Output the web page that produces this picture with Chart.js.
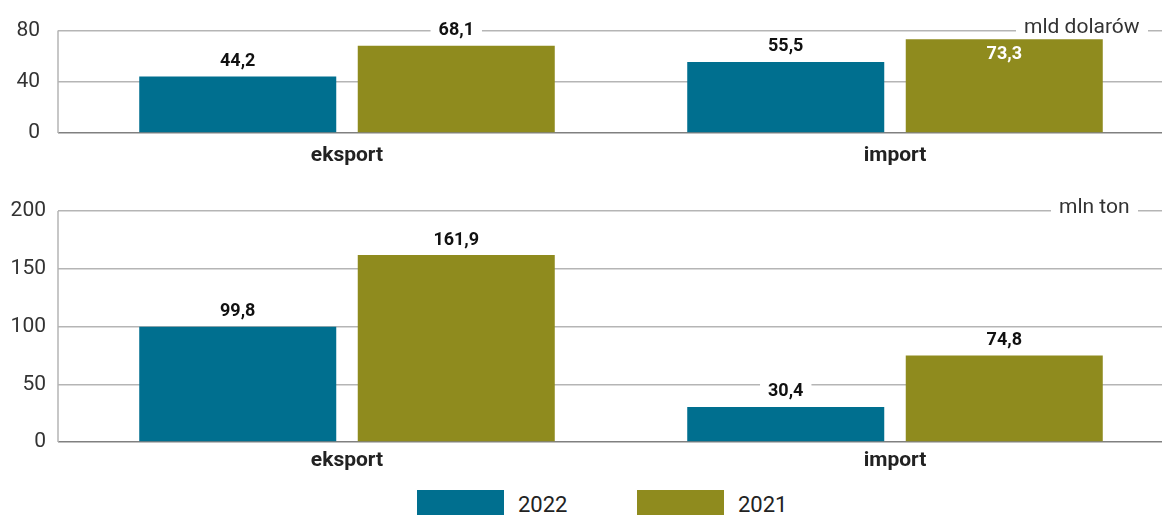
<!DOCTYPE html>
<html lang="pl">
<head>
<meta charset="utf-8">
<script src="https://cdn.jsdelivr.net/npm/chart.js@4"></script>
<style>
  body { margin: 0; background: #fff; font-family: Roboto, sans-serif; }
  #page { position: relative; width: 1162px; height: 515px; overflow: hidden; }
  .panel { position: absolute; left: 0; width: 1169px; }
  .unit {
    position: absolute; background: #fff; color: #333;
    font-size: 21px; line-height: 22px; padding: 0 8px;
  }
  .legend-box { position: absolute; width: 87px; height: 27px; }
  .legend-text { position: absolute; font-size: 22px; color: #222; line-height: 24px; }
</style>
</head>
<body>
<div id="page">
  <div class="panel" style="top:0; height:170px;"><canvas id="usdChart"></canvas></div>
  <div class="panel" style="top:180px; height:299px;"><canvas id="tonChart"></canvas></div>
  <span class="unit" style="left:1016px; top:15px;">mld dolarów</span>
  <span class="unit" style="left:1051px; top:195px;">mln ton</span>
  <div id="legend"></div>
</div>
<script>
// data
const categories = ["eksport", "import"];
const years = ["2022", "2021"];
const usd2022 = [44.2, 55.5];
const usd2021 = [68.1, 73.3];
const ton2022 = [99.8, 30.4];
const ton2021 = [161.9, 74.8];
const usdTicks = [0, 40, 80];
const tonTicks = [0, 50, 100, 150, 200];

const colors = ["#006f8f", "#8f8b1e"];
const gridColor = "#b5b5b5";
const zeroColor = "#808080";
const AXIS_X = 58;

function fmt(v) {
  return v.toFixed(1).replace(".", ",");
}

// value labels above bars (inside if the bar is near the top)
const valueLabels = {
  id: "valueLabels",
  afterDatasetsDraw(chart) {
    const ctx = chart.ctx;
    const max = chart.scales.y.max;
    ctx.save();
    ctx.font = "bold 18px Roboto";
    ctx.textAlign = "center";
    ctx.textBaseline = "middle";
    chart.data.datasets.forEach((ds, i) => {
      chart.getDatasetMeta(i).data.forEach((bar, j) => {
        const v = ds.data[j];
        const txt = fmt(v);
        if (v / max > 0.9) {
          ctx.fillStyle = "#fff";
          ctx.fillText(txt, bar.x, bar.y + 15);
        } else {
          const y = bar.y - 15;
          const w = ctx.measureText(txt).width;
          ctx.fillStyle = "#fff";
          ctx.fillRect(bar.x - w / 2 - 8, y - 9, w + 16, 18);
          ctx.fillStyle = "#111";
          ctx.fillText(txt, bar.x, y);
        }
      });
    });
    ctx.restore();
  },
};

// left axis line
const axisLine = {
  id: "axisLine",
  afterDraw(chart) {
    const a = chart.chartArea;
    const ctx = chart.ctx;
    ctx.save();
    ctx.strokeStyle = gridColor;
    ctx.lineWidth = 1.5;
    ctx.beginPath();
    ctx.moveTo(AXIS_X, a.top);
    ctx.lineTo(AXIS_X, a.bottom);
    ctx.stroke();
    ctx.restore();
  },
};

function makeChart(id, d2022, d2021, ticks, topPad, labelPad, catPad) {
  const ctx = document.getElementById(id).getContext("2d");
  return new Chart(ctx, {
    type: "bar",
    data: {
      labels: categories,
      datasets: [
        { label: years[0], data: d2022, backgroundColor: colors[0] },
        { label: years[1], data: d2021, backgroundColor: colors[1] },
      ],
    },
    options: {
      responsive: true,
      maintainAspectRatio: false,
      animation: false,
      layout: { padding: { top: topPad, right: 0, left: 0, bottom: 0 } },
      datasets: { bar: { categoryPercentage: 0.7975, barPercentage: 0.9016 } },
      plugins: { legend: { display: false }, tooltip: { enabled: false } },
      scales: {
        x: {
          grid: { display: false, drawTicks: false },
          border: { display: false },
          afterFit: (s) => { s.height = 37; },
          ticks: {
            padding: catPad,
            color: "#222",
            font: { family: "Roboto", size: 21, weight: "bold" },
          },
        },
        y: {
          min: ticks[0],
          max: ticks[ticks.length - 1],
          afterFit: (s) => { s.width = 73; },
          afterBuildTicks: (s) => { s.ticks = ticks.map((v) => ({ value: v })); },
          border: { display: false },
          grid: {
            color: (c) => (c.tick && c.tick.value === 0 ? zeroColor : gridColor),
            lineWidth: 1.5,
            tickLength: 15,
            drawTicks: true,
          },
          ticks: {
            padding: labelPad,
            color: "#333",
            font: { family: "Roboto", size: 21 },
            callback: (v) => v,
          },
        },
      },
    },
    plugins: [valueLabels, axisLine],
  });
}

makeChart("usdChart", usd2022, usd2021, usdTicks, 28, 18, 10);
makeChart("tonChart", ton2022, ton2021, tonTicks, 31, 12, 6);

// legend
const legend = document.getElementById("legend");
const legendLeft = [417, 637];
years.forEach((y, i) => {
  legend.innerHTML +=
    `<div class="legend-box" style="left:${legendLeft[i]}px; top:490px; background:${colors[i]}"></div>` +
    `<span class="legend-text" style="left:${legendLeft[i] + 101}px; top:493px;">${y}</span>`;
});
</script>
</body>
</html>
